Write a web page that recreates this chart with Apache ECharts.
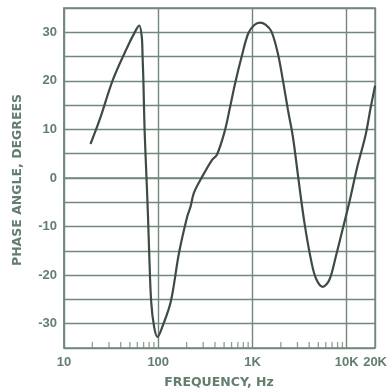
<!DOCTYPE html>
<html>
<head>
<meta charset="utf-8">
<script src="https://cdn.jsdelivr.net/npm/echarts@6/dist/echarts.min.js"></script>
<style>
  html, body { margin: 0; padding: 0; background: #ffffff; }
  #chart { width: 390px; height: 391px; }
</style>
</head>
<body>
<div id="chart"></div>
<script>
// Phase response: frequency (Hz) vs. phase angle (degrees)
const freqHz = [19.1, 23.9, 33.0, 45.6, 58.1, 63.0, 66.9, 68.2, 69.6, 71.6, 75.1, 77.9, 80.2, 84.2, 90.5, 98.1,
  110.7, 135.7, 165.9, 202.8, 220.2, 238.5, 287.4, 371.5, 419.5, 505.3, 580, 654.6, 768.2, 903.4, 1046, 1199, 1375,
  1588, 1867, 2108, 2380, 2685, 3083, 3565, 4183, 4721, 5553, 6531, 7656, 9012, 10600, 12960, 15840, 17880, 20000];
const phaseDeg = [7, 12, 20.2, 26.4, 30.5, 31.4, 29, 25, 20, 10, 0, -8, -15.5, -25.5, -30.7, -32.7,
  -30.6, -25.5, -15.5, -8, -5.9, -3.1, 0, 3.7, 4.8, 9.5, 14.7, 19.5, 25, 29.8, 31.5, 32, 31.6,
  30.2, 25.5, 20, 14, 8.5, -0.4, -9.3, -16.9, -20.7, -22.4, -21, -16.2, -10.7, -5.2, 2.3, 8.8, 14.3, 19];

// Frequency axis labels at decades and the upper limit
const freqTicks = [10, 100, 1000, 10000, 20000];
const freqTickLabels = ['10', '100', '1K', '10K', '20K'];
// Minor frequency ticks along the bottom edge
const minorFreqTicks = [20, 30, 40, 50, 60, 70, 80, 90,
  200, 300, 400, 500, 600, 700, 800, 900,
  2000, 3000, 4000, 5000, 6000, 7000, 8000, 9000];
// Phase axis labels
const phaseTicks = [-30, -20, -10, 0, 10, 20, 30];

const textColor = '#637d6e';
const gridColor = '#71887b';
const curveColor = '#3e4b45';
const fontFamily = 'Liberation Sans, Arial, sans-serif';
const nameFont = 'bold 12.5px DejaVu Sans, sans-serif';

const chart = echarts.init(document.getElementById('chart'), null, { renderer: 'canvas' });

function freqLabel(v) {
  for (let i = 0; i < freqTicks.length; i++) {
    if (Math.abs(v - freqTicks[i]) / freqTicks[i] < 1e-3) return freqTickLabels[i];
  }
  return '';
}

chart.setOption({
  animation: false,
  backgroundColor: '#ffffff',
  grid: {
    left: 64, right: 12, top: 8, bottom: 43,
    show: true, borderColor: gridColor, borderWidth: 1.5, backgroundColor: 'transparent'
  },
  xAxis: {
    type: 'log', logBase: 10, min: 10, max: 20000,
    axisLine: { show: true, lineStyle: { color: gridColor, width: 1.5 } },
    axisTick: { show: false },
    splitLine: { show: true, lineStyle: { color: gridColor, width: 1.4 } },
    minorTick: { show: false },
    axisLabel: {
      color: textColor, fontSize: 13, fontWeight: 'bold', fontFamily: fontFamily, margin: 8,
      formatter: freqLabel, showMinLabel: true, showMaxLabel: true
    }
  },
  yAxis: {
    type: 'value', min: -35, max: 35, interval: 5,
    axisLine: { show: true, lineStyle: { color: gridColor, width: 1.5 } },
    axisTick: { show: false },
    splitLine: { show: true, lineStyle: { color: gridColor, width: 1.4 } },
    axisLabel: {
      color: textColor, fontSize: 13, fontWeight: 'bold', fontFamily: fontFamily, margin: 7,
      formatter: v => phaseTicks.indexOf(v) >= 0 ? String(v) : ''
    }
  },
  graphic: [
    {
      type: 'text', x: 219, y: 383,
      style: { text: 'FREQUENCY, Hz', fill: textColor, font: nameFont,
        textAlign: 'center', textVerticalAlign: 'middle' }
    },
    {
      type: 'text', x: 18, y: 180, rotation: Math.PI / 2,
      style: { text: 'PHASE ANGLE, DEGREES', fill: textColor, font: nameFont,
        textAlign: 'center', textVerticalAlign: 'middle' }
    }
  ],
  series: [
    {
      type: 'scatter',
      data: minorFreqTicks.map(f => [f, -35]),
      symbol: 'rect', symbolSize: [1.3, 6], symbolOffset: [0, -3],
      itemStyle: { color: gridColor },
      silent: true, z: 3
    },
    {
      type: 'line',
      data: freqHz.map((f, i) => [f, phaseDeg[i]]),
      showSymbol: false, smooth: 0.35,
      lineStyle: { color: curveColor, width: 2.2 },
      silent: true, z: 5
    }
  ]
});
</script>
</body>
</html>
